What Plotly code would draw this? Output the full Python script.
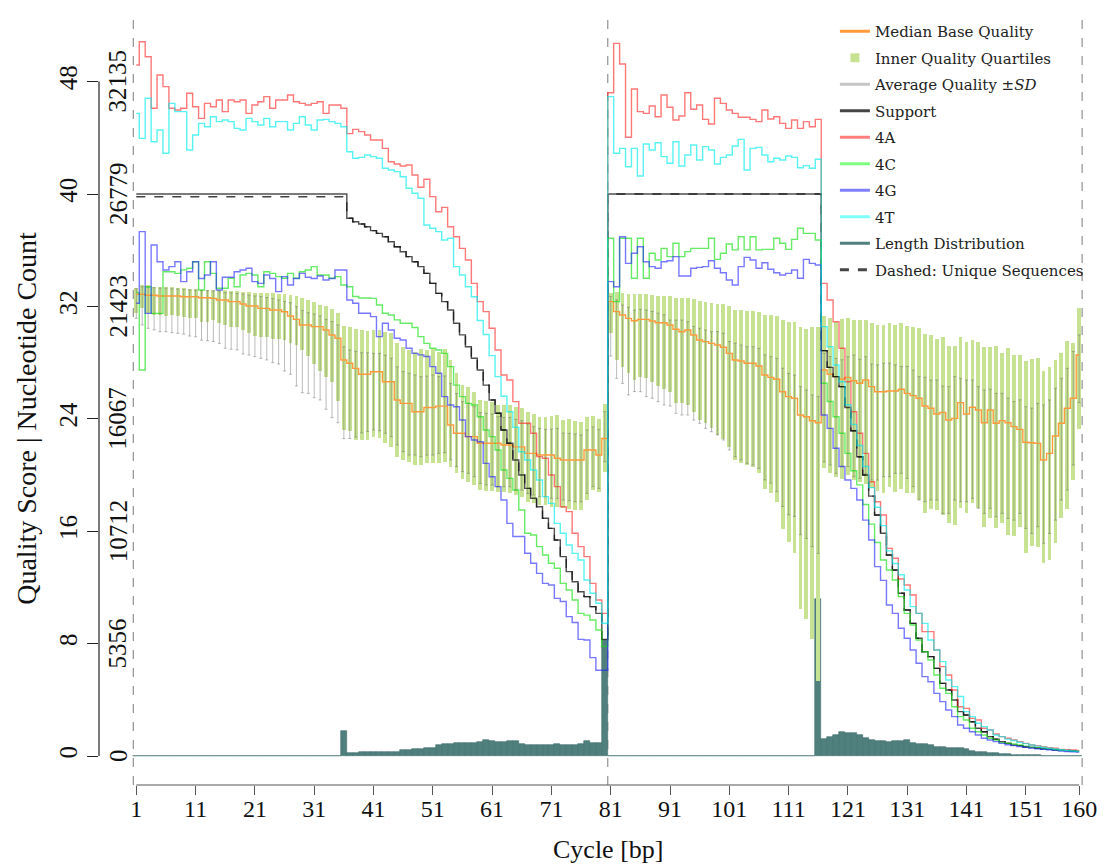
import plotly.graph_objects as go

# ---------------- data (quality-score units, one value per cycle) ----------------
q3_r1 = [33.3, 33.5, 33.5, 33.4, 33.36, 33.36, 33.36, 33.3, 33.3, 33.24,
         33.24, 33.17, 33.17, 33.17, 33.17, 33.17, 33.1, 33.1, 33.05, 33.0,
         32.98, 32.93, 32.93, 32.93, 32.88, 32.86, 32.81, 32.74, 32.6, 32.46,
         32.34, 32.1, 32.03, 31.8, 31.5, 30.6, 30.5, 30.37, 30.3, 30.25,
         30.32, 30.32, 30.2, 30.08, 29.37, 29.13, 28.9, 28.78, 29.0, 28.9,
         28.94, 28.78, 28.94, 28.19, 27.24, 26.4, 26.28, 25.93, 25.34, 25.29,
         25.17, 24.98, 24.98, 24.98, 24.86, 24.79, 24.5, 24.34, 24.15, 24.15,
         24.2, 24.27, 23.91, 23.97, 23.87, 23.79, 24.15, 24.22, 23.99, 25.03]
q3_r2 = [32.93, 33.05, 32.98, 32.88, 32.88, 32.88, 32.88, 32.81, 32.74, 32.74,
         32.74, 32.58, 32.58, 32.58, 32.5, 32.38, 32.34, 32.26, 32.17, 32.17,
         32.03, 31.74, 31.74, 31.67, 31.67, 31.6, 31.39, 31.39, 31.34, 31.03,
         30.91, 30.87, 30.51, 30.39, 30.51, 30.56, 31.32, 31.15, 30.91, 31.08,
         31.15, 31.03, 31.03, 31.03, 30.84, 30.68, 30.68, 30.8, 30.68, 30.8,
         30.6, 30.56, 30.44, 30.04, 29.96, 29.66, 29.84, 29.18, 29.18, 29.84,
         29.49, 29.61, 29.49, 29.13, 29.09, 29.18, 28.7, 29.02, 28.54, 28.54,
         28.14, 28.24, 28.3, 27.42, 27.67, 28.19, 28.66, 29.54, 29.42, 31.86]
q1_r1 = [31.5, 31.86, 31.5, 31.39, 31.39, 31.3, 31.39, 31.3, 31.27, 31.15,
         31.15, 30.91, 30.91, 31.03, 30.8, 30.68, 30.56, 30.56, 30.3, 30.08,
         29.9, 29.84, 29.84, 29.7, 29.66, 29.6, 29.37, 29.25, 28.9, 28.5,
         27.9, 27.4, 27.0, 26.6, 25.3, 23.2, 23.1, 22.5, 22.5, 22.5,
         22.73, 22.6, 22.26, 22.0, 21.3, 21.07, 20.95, 20.71, 20.71, 20.83,
         20.83, 20.88, 20.95, 20.6, 20.12, 19.69, 19.52, 19.29, 18.93, 18.88,
         18.88, 18.81, 18.81, 18.74, 18.58, 18.46, 18.1, 17.98, 17.86, 17.86,
         17.74, 17.7, 17.62, 17.55, 17.5, 17.5, 18.22, 18.93, 18.81, 20.24]
q1_r2 = [30.13, 28.19, 27.71, 27.24, 26.76, 27.0, 26.88, 26.64, 26.33, 26.1,
         25.93, 25.1, 25.1, 24.98, 24.51, 23.91, 23.72, 23.32, 22.85, 22.54,
         21.97, 21.07, 20.88, 20.71, 20.55, 20.17, 18.98, 18.7, 18.1, 16.13,
         15.2, 14.47, 10.44, 9.73, 8.31, 5.34, 20.48, 20.16, 19.84, 19.7,
         20.0, 19.64, 19.52, 19.36, 19.05, 18.88, 18.7, 19.12, 18.81, 18.98,
         18.7, 18.74, 18.22, 17.27, 17.56, 17.51, 17.15, 16.56, 16.44, 17.63,
         17.27, 18.03, 17.63, 16.32, 16.91, 16.2, 16.56, 15.73, 15.66, 16.32,
         14.42, 14.95, 14.9, 13.71, 13.95, 15.14, 16.91, 17.56, 19.64, 23.25]

median_r1 = [32.86, 32.86, 32.79, 32.79, 32.74, 32.74, 32.74, 32.74, 32.69, 32.69,
             32.69, 32.62, 32.62, 32.57, 32.46, 32.46, 32.34, 32.34, 32.17, 32.03,
             32.03, 31.86, 31.86, 31.74, 31.74, 31.62, 31.32, 31.08, 30.68, 30.68,
             30.56, 30.56, 30.32, 29.96, 29.73, 28.19, 27.95, 27.59, 27.17, 27.17,
             27.35, 27.35, 26.64, 26.64, 25.34, 25.1, 25.1, 24.5, 24.5, 24.8,
             24.8, 24.9, 24.9, 23.56, 22.97, 22.97, 22.73, 22.73, 22.26, 22.26,
             22.26, 22.26, 22.14, 22.14, 22.0, 22.0, 21.54, 21.54, 21.42, 21.42,
             21.42, 21.19, 21.07, 21.07, 21.07, 21.07, 21.78, 21.78, 21.42, 22.6]
median_r2 = [32.34, 31.63, 31.39, 31.15, 30.98, 31.08, 31.08, 30.96, 30.84, 30.84,
             30.68, 30.37, 30.2, 30.32, 29.96, 29.61, 29.49, 29.37, 29.25, 29.09,
             28.66, 28.19, 28.11, 27.95, 27.95, 27.76, 27.12, 26.95, 26.81, 25.93,
             25.58, 25.46, 24.27, 24.15, 23.86, 23.72, 27.47, 27.17, 27.0, 26.83,
             26.95, 26.71, 26.53, 26.76, 26.29, 25.93, 25.93, 25.98, 25.98, 26.1,
             25.81, 25.65, 25.46, 24.91, 24.75, 24.34, 24.46, 23.91, 24.03, 25.15,
             24.34, 24.82, 24.63, 23.72, 24.63, 23.68, 23.87, 23.72, 23.44, 23.25,
             22.33, 22.3, 22.25, 21.07, 21.54, 22.78, 23.68, 24.75, 25.46, 28.54]

mean_r1 = [32.2, 32.04, 31.9, 31.83, 31.75, 31.75, 31.69, 31.66, 31.62, 31.53,
           31.5, 31.36, 31.34, 31.3, 31.21, 31.0, 30.96, 30.91, 30.74, 30.67,
           30.58, 30.5, 30.41, 30.28, 30.18, 29.87, 29.72, 29.16, 28.78, 28.68,
           28.48, 28.33, 27.88, 27.5, 27.2, 25.86, 25.75, 25.75, 25.85, 25.9,
           25.93, 25.9, 25.75, 25.52, 24.92, 24.51, 24.33, 24.27, 24.15, 24.23,
           24.27, 24.27, 24.32, 23.8, 23.2, 22.73, 22.61, 22.37, 21.92, 21.84,
           21.81, 21.66, 21.63, 21.63, 21.44, 21.4, 21.16, 21.01, 20.89, 20.85,
           20.8, 20.83, 20.6, 20.57, 20.51, 20.47, 20.95, 21.3, 21.15, 22.73]
mean_r2 = [30.59, 29.67, 29.31, 28.82, 28.84, 28.86, 28.66, 28.55, 28.37, 28.19,
           27.97, 27.71, 27.65, 27.59, 27.24, 27.06, 26.82, 26.64, 26.53, 26.29,
           25.64, 25.34, 25.16, 24.98, 24.92, 24.74, 24.1, 23.92, 23.56, 22.68,
           22.2, 22.08, 21.02, 20.77, 20.3, 20.0, 24.8, 24.57, 24.21, 24.4,
           24.51, 24.21, 24.0, 24.27, 23.77, 23.74, 23.92, 23.92, 23.98, 23.92,
           23.74, 23.32, 22.61, 22.53, 22.49, 22.49, 21.8, 21.78, 22.61, 22.49,
           22.43, 22.55, 21.96, 21.66, 21.87, 21.42, 21.54, 21.19, 21.01, 21.31,
           20.53, 20.3, 20.71, 20.06, 20.59, 21.48, 22.55, 23.26, 24.75, 27.56]
sd_r1 = [1.05, 1.36, 1.46, 1.5, 1.55, 1.55, 1.56, 1.58, 1.59, 1.64,
         1.66, 1.76, 1.78, 1.8, 1.84, 1.98, 2.01, 2.01, 2.13, 2.13,
         2.16, 2.2, 2.22, 2.28, 2.28, 2.47, 2.55, 2.82, 2.92, 2.87,
         2.98, 2.99, 3.2, 3.42, 3.48, 3.27, 3.15, 3.05, 2.85, 2.8,
         2.73, 2.75, 2.78, 2.79, 2.78, 2.85, 2.91, 2.85, 2.85, 2.81,
         2.85, 2.73, 2.73, 2.72, 2.6, 2.49, 2.49, 2.49, 2.52, 2.55,
         2.52, 2.49, 2.47, 2.47, 2.52, 2.47, 2.47, 2.43, 2.43, 2.4,
         2.46, 2.49, 2.38, 2.4, 2.41, 2.38, 2.25, 2.13, 2.1, 1.78]
sd_r2 = [2.12, 2.79, 2.79, 3.12, 2.9, 2.93, 3.08, 3.09, 3.15, 3.21,
         3.06, 3.32, 3.38, 3.32, 3.33, 3.38, 3.5, 3.56, 3.68, 3.8,
         3.86, 4.04, 4.09, 4.15, 4.21, 4.27, 4.45, 4.5, 4.74, 4.92,
         5.03, 5.03, 5.27, 5.28, 5.4, 5.58, 3.86, 3.86, 4.09, 3.8,
         3.91, 4.33, 4.24, 4.15, 4.13, 4.1, 4.04, 4.04, 3.86, 3.8,
         3.98, 4.15, 4.39, 4.43, 4.27, 4.27, 4.53, 4.51, 4.39, 4.39,
         4.33, 4.21, 4.33, 4.39, 4.24, 4.39, 4.27, 4.28, 4.22, 4.04,
         4.33, 4.46, 4.39, 4.92, 4.75, 4.69, 4.33, 4.33, 4.04, 2.41]

support_r1 = [40.0] * 36 + [
    38.27, 38.03, 37.86, 37.67, 37.39, 37.2, 36.96, 36.6, 36.25, 35.89,
    35.54, 35.18, 34.83, 34.35, 33.64, 32.93, 32.34, 31.74, 30.8, 29.97,
    29.13, 28.31, 27.47, 26.4, 25.34, 24.39, 23.2, 22.26, 21.07, 20.0,
    19.05, 18.34, 17.74, 16.92, 16.2, 15.37, 14.19, 13.12, 12.4, 11.69,
    11.34, 10.63, 10.15, 8.3]
support_r2 = [40.0] * 36 + [
    28.85, 27.66, 27.0, 26.29, 24.8, 23.15, 21.3, 20.0, 18.5, 17.15,
    15.85, 14.31, 13.24, 11.58, 10.39, 9.44, 8.38, 7.42, 7.07, 6.24,
    5.17, 4.7, 3.99, 3.16, 2.92, 2.44, 1.97, 1.73, 1.38, 1.19,
    1.02, 0.9, 0.78, 0.74, 0.66, 0.6, 0.56, 0.52, 0.48, 0.45,
    0.42, 0.39, 0.36, 0.33]
support_unique_r1_flat = [39.8] * 36

base_a_r1 = [49.18, 50.84, 49.77, 46.1, 48.47, 47.64, 46.1, 45.98, 46.1, 47.17,
             46.21, 45.38, 46.45, 46.21, 46.69, 45.86, 46.69, 46.57, 46.69, 45.74,
             46.33, 46.57, 46.93, 46.1, 46.69, 46.69, 47.05, 46.57, 46.45, 46.33,
             46.45, 46.57, 45.74, 46.33, 46.33, 46.1, 44.3, 44.6, 44.44, 44.2,
             43.84, 43.84, 43.25, 42.3, 42.13, 41.99, 42.06, 41.35, 40.48, 41.05,
             39.81, 38.74, 39.05, 37.67, 36.96, 36.13, 35.3, 33.64, 32.34, 31.63,
             30.44, 28.9, 27.12, 26.76, 25.22, 23.68, 23.68, 22.97, 21.31, 21.19,
             20.0, 19.17, 17.74, 17.39, 15.85, 14.9, 14.19, 12.29, 11.1, 10.15]
base_a_r2 = [47.21, 50.72, 49.25, 44.04, 47.47, 45.86, 45.74, 46.26, 45.5, 47.05,
             46.17, 45.27, 45.55, 47.21, 46.03, 46.33, 45.31, 44.98, 46.81, 46.45,
             45.98, 45.74, 45.46, 45.46, 45.31, 45.15, 45.98, 45.34, 45.5, 45.03,
             44.67, 45.27, 44.67, 45.15, 44.79, 45.31, 33.64, 32.46, 30.91, 29.02,
             26.64, 24.5, 22.97, 21.54, 19.52, 18.1, 17.15, 14.78, 14.07, 12.6,
             12.17, 11.46, 10.15, 8.85, 8.85, 7.54, 6.36, 5.77, 4.7, 3.51,
             3.39, 2.68, 2.56, 1.97, 1.85, 1.57, 1.38, 1.26, 1.14, 1.02,
             0.9, 0.78, 0.74, 0.66, 0.59, 0.55, 0.47, 0.43, 0.43, 0.4]
base_c_r1 = [33.0, 27.47, 33.4, 31.5, 31.5, 34.47, 34.47, 34.35, 34.6, 34.71,
             35.18, 33.17, 35.18, 34.35, 33.29, 33.29, 34.0, 33.4, 34.23, 34.35,
             34.23, 33.4, 34.47, 34.35, 34.12, 34.0, 34.35, 34.0, 34.47, 34.59,
             34.83, 34.23, 34.23, 34.0, 34.12, 33.52, 33.4, 32.7, 32.6, 32.6,
             32.57, 32.1, 31.51, 31.39, 31.04, 30.8, 30.8, 30.5, 29.85, 29.37,
             29.02, 28.9, 28.66, 27.71, 26.4, 25.58, 25.1, 24.98, 24.15, 23.2,
             22.73, 21.78, 20.36, 19.76, 18.93, 17.51, 15.85, 15.73, 14.9, 14.31,
             13.72, 13.36, 12.29, 11.82, 11.1, 10.15, 10.03, 9.68, 8.97, 7.8]
base_c_r2 = [36.85, 32.34, 36.85, 36.85, 34.0, 36.85, 34.0, 35.78, 35.3, 36.13,
             35.54, 36.49, 35.54, 35.9, 36.13, 36.13, 36.13, 36.85, 35.35, 35.78,
             36.44, 36.02, 36.96, 36.02, 36.96, 36.02, 36.06, 36.06, 36.85, 36.49,
             36.06, 36.77, 37.56, 37.2, 37.2, 36.73, 26.53, 25.23, 24.15, 22.97,
             21.54, 20.3, 19.3, 17.9, 16.5, 15.2, 13.95, 13.24, 12.53, 11.34,
             10.15, 9.32, 8.26, 7.42, 6.83, 5.77, 4.82, 4.46, 3.51, 2.8,
             2.56, 1.97, 1.73, 1.5, 1.26, 1.14, 0.95, 0.9, 0.85, 0.78,
             0.7, 0.62, 0.58, 0.53, 0.49, 0.45, 0.41, 0.38, 0.35, 0.32]
base_g_r1 = [32.22, 37.32, 31.5, 36.37, 35.18, 34.59, 34.83, 35.18, 33.76, 34.47,
             35.18, 33.99, 34.23, 35.18, 33.17, 34.07, 34.07, 34.47, 34.59, 34.71,
             33.76, 33.64, 34.23, 33.99, 33.05, 34.12, 33.52, 33.99, 34.35, 34.07,
             33.99, 34.16, 33.88, 33.99, 34.59, 34.59, 32.46, 32.22, 31.51, 31.51,
             31.27, 29.85, 30.8, 30.32, 29.73, 29.61, 29.02, 28.66, 28.55, 28.43,
             27.71, 27.24, 25.58, 24.98, 24.86, 23.91, 22.73, 22.49, 22.37, 20.83,
             19.88, 19.17, 18.22, 16.56, 15.62, 15.62, 14.43, 13.72, 13.0, 12.29,
             12.17, 11.22, 11.0, 9.92, 9.5, 8.3, 8.26, 7.0, 6.1, 6.1]
base_g_r2 = [33.76, 33.4, 36.96, 35.06, 35.78, 36.25, 35.18, 34.83, 34.71, 35.18,
             35.25, 35.54, 34.16, 34.16, 34.71, 34.78, 34.83, 35.25, 34.71, 34.4,
             33.88, 33.52, 34.83, 35.49, 35.3, 34.71, 35.11, 34.64, 34.4, 34.23,
             34.35, 34.59, 34.0, 35.35, 35.06, 34.95, 24.27, 23.32, 21.9, 20.6,
             19.64, 19.05, 18.22, 16.79, 15.37, 13.48, 12.5, 10.75, 10.15, 9.09,
             8.38, 7.54, 6.6, 5.65, 5.29, 4.46, 3.87, 3.27, 2.8, 2.21,
             1.97, 1.73, 1.5, 1.26, 1.14, 1.02, 0.9, 0.8, 0.74, 0.68,
             0.62, 0.57, 0.52, 0.48, 0.44, 0.4, 0.36, 0.32, 0.3, 0.28]
base_t_r1 = [45.74, 43.96, 46.81, 43.72, 44.56, 42.9, 46.45, 45.86, 45.86, 43.13,
             44.2, 45.03, 44.79, 45.5, 45.15, 45.27, 45.15, 44.67, 44.56, 45.38,
             45.15, 44.91, 45.38, 44.79, 45.15, 45.15, 44.56, 45.03, 45.5, 44.91,
             44.56, 45.27, 45.31, 45.15, 45.03, 44.79, 43.01, 42.54, 42.61, 42.78,
             42.66, 42.54, 41.83, 41.71, 41.59, 41.23, 40.41, 40.05, 39.7, 37.79,
             37.56, 37.32, 36.73, 36.85, 34.83, 34.23, 33.4, 32.69, 31.0, 30.0,
             28.5, 27.0, 25.6, 24.5, 23.4, 21.66, 21.07, 20.36, 19.64, 18.46,
             17.98, 16.56, 15.85, 15.02, 14.42, 13.95, 12.53, 11.58, 10.87, 9.45]
base_t_r2 = [46.93, 42.9, 43.25, 41.94, 43.25, 41.28, 43.56, 43.13, 43.65, 42.66,
             42.19, 43.72, 41.99, 42.78, 43.49, 42.42, 43.37, 43.13, 42.13, 42.61,
             42.78, 43.42, 43.89, 41.71, 43.25, 43.32, 42.78, 42.3, 42.54, 42.42,
             42.7, 42.61, 41.87, 42.02, 41.83, 42.47, 30.56, 29.13, 27.83, 26.64,
             25.0, 23.6, 22.1, 20.6, 19.1, 17.7, 16.4, 14.6, 13.7, 12.9,
             11.81, 10.63, 10.15, 9.44, 8.26, 7.54, 6.72, 5.41, 4.94, 4.23,
             3.16, 2.8, 2.33, 2.09, 1.85, 1.5, 1.38, 1.2, 1.1, 0.98,
             0.88, 0.78, 0.7, 0.62, 0.55, 0.5, 0.45, 0.4, 0.36, 0.33]

length_r1 = [0.0] * 35 + [
    1.75, 0.22, 0.22, 0.25, 0.28, 0.3, 0.3, 0.32, 0.3, 0.32,
    0.4, 0.45, 0.48, 0.5, 0.55, 0.6, 0.75, 0.83, 0.85, 0.9,
    0.9, 0.95, 0.95, 1.0, 1.14, 1.1, 1.0, 1.0, 1.1, 1.1,
    0.85, 0.8, 0.78, 0.75, 0.75, 0.8, 0.83, 0.8, 0.78, 0.75,
    0.83, 1.1, 0.9, 0.9, 8.26]
length_r2 = [0.0] * 35 + [
    11.2, 1.19, 1.38, 1.5, 1.73, 1.61, 1.66, 1.5, 1.26, 1.14,
    1.09, 1.09, 1.02, 1.09, 1.09, 1.14, 0.9, 0.85, 0.85, 0.78,
    0.66, 0.66, 0.55, 0.59, 0.55, 0.47, 0.38, 0.31, 0.31, 0.24,
    0.2, 0.14, 0.14, 0.07, 0.07, 0.07, 0.05, 0.04, 0.03, 0.03,
    0.02, 0.02, 0.02, 0.01, 0.01]

x_ticks = [1, 11, 21, 31, 41, 51, 61, 71, 81, 91, 101, 111, 121, 131, 141, 151, 160]
y_ticks = [0, 8, 16, 24, 32, 40, 48]
count_labels = ["0", "5356", "10712", "16067", "21423", "26779", "32135"]
read_bounds = [0.5, 80.5, 160.5]

# ---------------- assemble ----------------
cycles = list(range(1, 161))
q1 = q1_r1 + q1_r2
q3 = q3_r1 + q3_r2
median = median_r1 + median_r2
mean_q = mean_r1 + mean_r2
sd_q = sd_r1 + sd_r2
support = support_r1 + support_r2
support_unique = support_unique_r1_flat + support_r1[36:] + support_r2
length_dist = length_r1 + length_r2

C_ORANGE = "#ff9a3c"
C_QUART = "rgb(199,226,146)"
C_GREY = "#c4c4c4"
C_TEAL = "#4f807e"
SERIF = "Liberation Serif"

fig = go.Figure()

# length distribution (step histogram)
fig.add_trace(go.Bar(x=cycles, y=length_dist, width=1.0,
                     marker=dict(color=C_TEAL, line=dict(color="#426f6d", width=0.6)),
                     showlegend=False, hoverinfo="skip"))
# inner quartiles
fig.add_trace(go.Bar(x=cycles, y=[hi - lo for hi, lo in zip(q3, q1)], base=q1, width=0.64,
                     marker=dict(color=C_QUART, line=dict(width=0)),
                     showlegend=False, hoverinfo="skip"))
# mean +- sd
fig.add_trace(go.Scatter(x=cycles, y=mean_q, mode="markers",
                         marker=dict(size=1, color="rgba(0,0,0,0)"),
                         error_y=dict(type="data", array=sd_q, visible=True,
                                      color="rgba(105,105,105,0.45)", thickness=1, width=1.5),
                         showlegend=False, hoverinfo="skip"))
# median
fig.add_trace(go.Scatter(x=cycles, y=median, mode="lines",
                         line=dict(color=C_ORANGE, width=1.4, shape="hvh"),
                         showlegend=False))

line_series = [
    (support_unique, "rgba(20,20,20,0.8)", "dash"),
    (support, "rgba(20,20,20,0.75)", "solid"),
    (base_a_r1 + base_a_r2, "rgba(255,30,30,0.6)", "solid"),
    (base_c_r1 + base_c_r2, "rgba(20,225,20,0.65)", "solid"),
    (base_g_r1 + base_g_r2, "rgba(30,30,255,0.6)", "solid"),
    (base_t_r1 + base_t_r2, "rgba(0,235,235,0.65)", "solid"),
]
for vals, col, dash in line_series:
    fig.add_trace(go.Scatter(x=cycles, y=vals, mode="lines",
                             line=dict(color=col, width=1.4, shape="hvh", dash=dash),
                             showlegend=False))

# legend-only entries
legend_items = [
    ("Median Base Quality", "lines", C_ORANGE, "solid"),
    ("Inner Quality Quartiles", "markers", C_QUART, None),
    ("Average Quality ±<i>SD</i>", "lines", C_GREY, "solid"),
    ("Support", "lines", "#454545", "solid"),
    ("4A", "lines", "#ff7f7f", "solid"),
    ("4C", "lines", "#7fff7f", "solid"),
    ("4G", "lines", "#7f7fff", "solid"),
    ("4T", "lines", "#7fffff", "solid"),
    ("Length Distribution", "lines", C_TEAL, "solid"),
    ("Dashed: Unique Sequences", "lines", "#454545", "dash"),
]
for i, (name, mode, col, dash) in enumerate(legend_items):
    if mode == "markers":
        fig.add_trace(go.Scatter(x=[None], y=[None], mode="markers", name=name,
                                 marker=dict(symbol="square", size=9, color=col),
                                 legendgroup=str(i)))
    else:
        fig.add_trace(go.Scatter(x=[None], y=[None], mode="lines", name=name,
                                 line=dict(color=col, width=3, dash=dash),
                                 legendgroup=str(i)))

# plot geometry (reference pixels; the page body adds an 8px offset)
PAGE_OFF = 8
FIG_W, FIG_H = 1106 - PAGE_OFF, 864 - PAGE_OFF
L, R, T, B = 99 - PAGE_OFF, 16, 14 - PAGE_OFF, 79
PLOT_W = FIG_W - L - R
px_per_cycle = 5.93
px_per_q = 14.05
x_left = 1 + (99 - 136.3) / px_per_cycle
x_right = 1 + (99 + PLOT_W - 136.3) / px_per_cycle
y_bot = (756 - 785) / px_per_q
y_top = (756 - 14) / px_per_q

shapes = []
for xb in read_bounds:
    shapes.append(dict(type="line", xref="x", yref="paper", x0=xb, x1=xb, y0=0.0, y1=1.0,
                       line=dict(color="#9a9a9a", width=1.3, dash="dash"), layer="below"))
shapes.append(dict(type="line", xref="x", yref="paper", x0=x_ticks[0], x1=x_ticks[-1], y0=0, y1=0,
                   line=dict(color="#555555", width=1.2)))
shapes.append(dict(type="line", xref="paper", yref="y", x0=0, x1=0, y0=y_ticks[0], y1=y_ticks[-1],
                   line=dict(color="#222222", width=1.2)))

annotations = []
for yv, lab in zip(y_ticks, count_labels):
    annotations.append(dict(x=(118 - 99) / PLOT_W, xref="paper", y=yv, yref="y",
                            text=lab, textangle=-90, showarrow=False,
                            xanchor="center", yanchor="middle",
                            font=dict(family=SERIF, size=25, color="#111")))
annotations.append(dict(x=80.5, xref="x", y=-0.084, yref="paper", text="Cycle [bp]",
                        showarrow=False, xanchor="center", yanchor="middle",
                        font=dict(family=SERIF, size=26, color="#111")))
annotations.append(dict(x=(27 - 99) / PLOT_W, xref="paper", y=24, yref="y",
                        text="Quality Score | Nucleotide Count", textangle=-90,
                        showarrow=False, xanchor="center", yanchor="middle",
                        font=dict(family=SERIF, size=28, color="#111")))

fig.update_layout(
    width=FIG_W, height=FIG_H,
    margin=dict(l=L, r=R, t=T, b=B, autoexpand=False),
    paper_bgcolor="white", plot_bgcolor="white",
    barmode="overlay", bargap=0,
    showlegend=True,
    legend=dict(x=0.7426, y=0.9987, xanchor="left", yanchor="top",
                bgcolor="rgba(0,0,0,0)", borderwidth=0,
                font=dict(family="DejaVu Serif", size=15, color="#222"),
                tracegroupgap=4, itemwidth=30, traceorder="grouped"),
    shapes=shapes, annotations=annotations,
    xaxis=dict(range=[x_left, x_right], tickmode="array", tickvals=x_ticks,
               ticktext=[str(v) for v in x_ticks], ticks="outside", ticklen=9,
               tickcolor="#555", tickwidth=1.2, ticklabelstandoff=-7, automargin=False,
               tickfont=dict(family=SERIF, size=24, color="#111"),
               showgrid=False, zeroline=False, showline=False),
    yaxis=dict(range=[y_bot, y_top], tickmode="array", tickvals=y_ticks,
               ticktext=[str(v) for v in y_ticks], ticks="outside", ticklen=11,
               tickcolor="#222", tickwidth=1.2, tickangle=-90, automargin=False,
               tickfont=dict(family=SERIF, size=25, color="#111"),
               showgrid=False, zeroline=False, showline=False),
)

fig.write_html("out.html")
